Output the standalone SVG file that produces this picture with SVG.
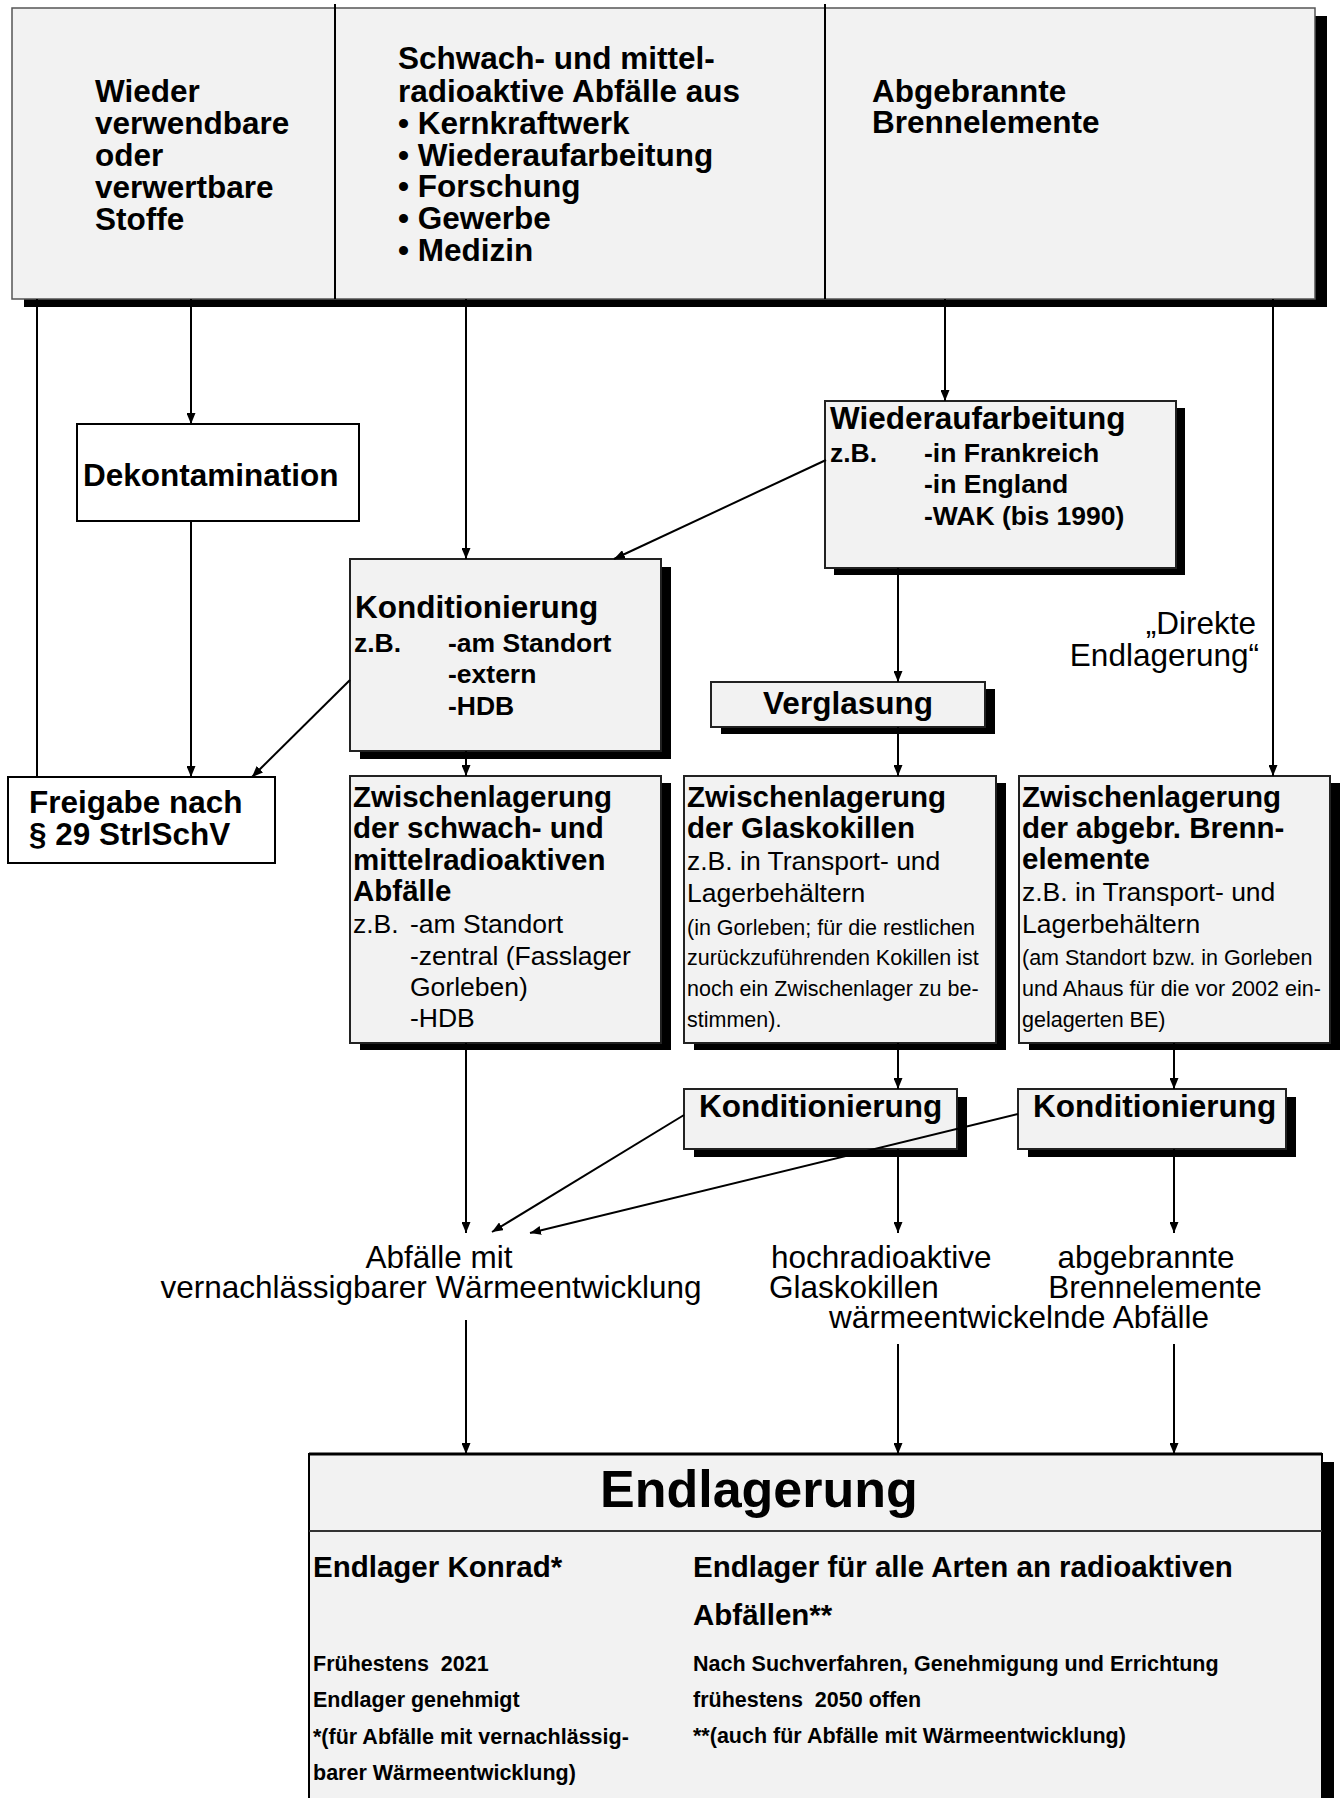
<svg xmlns="http://www.w3.org/2000/svg" width="1344" height="1798" viewBox="0 0 1344 1798">
<defs>
<marker id="ah" viewBox="0 0 11 9" refX="11" refY="4.5" markerWidth="11" markerHeight="9" markerUnits="userSpaceOnUse" orient="auto"><path d="M0,0 L11,4.5 L0,9 Z" fill="#000"/></marker>
</defs>
<style>
text{font-family:"Liberation Sans",Arial,Helvetica,sans-serif;fill:#000}
.b{font-weight:bold}
.f31{font-size:31.5px}
.f29{font-size:29.5px}
.f26{font-size:26.5px}
.f21{font-size:21.5px}
.box{fill:#f2f2f2;stroke:#222;stroke-width:2}
.sh{fill:#000}
.wbox{fill:#fff;stroke:#000;stroke-width:2}
.ln{stroke:#000;stroke-width:2;fill:none}
.ar{marker-end:url(#ah)}
</style>
<rect width="1344" height="1798" fill="#fff"/>

<g id="quellen">
<rect class="sh" x="24" y="16" width="1303" height="291"/>
<rect x="12" y="8" width="1303" height="291" fill="#f2f2f2" stroke="#555" stroke-width="1.5"/>
<line x1="335" y1="4" x2="335" y2="299" stroke="#000" stroke-width="2"/>
<line x1="825" y1="4" x2="825" y2="299" stroke="#000" stroke-width="2"/>
<g id="stoffe">
<text class="b f31" x="95" y="102">Wieder</text>
<text class="b f31" x="95" y="134">verwendbare</text>
<text class="b f31" x="95" y="166">oder</text>
<text class="b f31" x="95" y="198">verwertbare</text>
<text class="b f31" x="95" y="230">Stoffe</text>
</g>
<g id="schwach-mittel">
<text class="b f31" x="398" y="69">Schwach- und mittel-</text>
<text class="b f31" x="398" y="102">radioaktive Abfälle aus</text>
<text class="b f31" x="398" y="134">• Kernkraftwerk</text>
<text class="b f31" x="398" y="166">• Wiederaufarbeitung</text>
<text class="b f31" x="398" y="197">• Forschung</text>
<text class="b f31" x="398" y="229">• Gewerbe</text>
<text class="b f31" x="398" y="261">• Medizin</text>
</g>
<g id="brennelemente">
<text class="b f31" x="872" y="102">Abgebrannte</text>
<text class="b f31" x="872" y="133">Brennelemente</text>
</g>
</g>

<g id="dekontamination">
<rect class="wbox" x="77" y="424" width="282" height="97"/>
<text class="b f31" x="83" y="486">Dekontamination</text>
</g>

<g id="freigabe">
<rect class="wbox" x="8" y="777" width="267" height="86"/>
<text class="b f31" x="29" y="813">Freigabe nach</text>
<text class="b f31" x="29" y="845">§ 29 StrlSchV</text>
</g>

<g id="konditionierung1">
<rect class="sh" x="360" y="567" width="311" height="192"/>
<rect class="box" x="350" y="559" width="311" height="192"/>
<text class="b f31" x="355" y="618">Konditionierung</text>
<text class="b f26" x="354" y="652">z.B.</text>
<text class="b f26" x="448" y="652">-am Standort</text>
<text class="b f26" x="448" y="683">-extern</text>
<text class="b f26" x="448" y="715">-HDB</text>
</g>

<g id="wiederaufarbeitung">
<rect class="sh" x="834" y="408" width="351" height="167"/>
<rect class="box" x="825" y="401" width="351" height="167"/>
<text class="b f31" x="830" y="429">Wiederaufarbeitung</text>
<text class="b f26" x="830" y="462">z.B.</text>
<text class="b f26" x="924" y="462">-in Frankreich</text>
<text class="b f26" x="924" y="493">-in England</text>
<text class="b f26" x="924" y="525">-WAK (bis 1990)</text>
</g>

<g id="verglasung">
<rect class="sh" x="721" y="689" width="274" height="45"/>
<rect class="box" x="711" y="682" width="274" height="45"/>
<text class="b f31" x="848" y="714" text-anchor="middle">Verglasung</text>
</g>

<g id="direkte-endlagerung">
<text class="f31" x="1256" y="634" text-anchor="end">„Direkte</text>
<text class="f31" x="1259" y="666" text-anchor="end">Endlagerung“</text>
</g>

<g id="zwischenlager-smr">
<rect class="sh" x="360" y="783" width="311" height="267"/>
<rect class="box" x="350" y="776" width="311" height="267"/>
<text class="b f29" x="353" y="807">Zwischenlagerung</text>
<text class="b f29" x="353" y="838">der schwach- und</text>
<text class="b f29" x="353" y="870">mittelradioaktiven</text>
<text class="b f29" x="353" y="901">Abfälle</text>
<text class="f26" x="353" y="933">z.B.</text>
<text class="f26" x="410" y="933">-am Standort</text>
<text class="f26" x="410" y="965">-zentral (Fasslager</text>
<text class="f26" x="410" y="996">Gorleben)</text>
<text class="f26" x="410" y="1027">-HDB</text>
</g>

<g id="zwischenlager-glaskokillen">
<rect class="sh" x="694" y="783" width="312" height="267"/>
<rect class="box" x="684" y="776" width="312" height="267"/>
<text class="b f29" x="687" y="807">Zwischenlagerung</text>
<text class="b f29" x="687" y="838">der Glaskokillen</text>
<text class="f26" x="687" y="870">z.B. in Transport- und</text>
<text class="f26" x="687" y="902">Lagerbehältern</text>
<text class="f21" x="687" y="935">(in Gorleben; für die restlichen</text>
<text class="f21" x="687" y="965">zurückzuführenden Kokillen ist</text>
<text class="f21" x="687" y="996">noch ein Zwischenlager zu be-</text>
<text class="f21" x="687" y="1027">stimmen).</text>
</g>

<g id="zwischenlager-brennelemente">
<rect class="sh" x="1029" y="783" width="311" height="267"/>
<rect class="box" x="1019" y="776" width="311" height="267"/>
<text class="b f29" x="1022" y="807">Zwischenlagerung</text>
<text class="b f29" x="1022" y="838">der abgebr. Brenn-</text>
<text class="b f29" x="1022" y="869">elemente</text>
<text class="f26" x="1022" y="901">z.B. in Transport- und</text>
<text class="f26" x="1022" y="933">Lagerbehältern</text>
<text class="f21" x="1022" y="965">(am Standort bzw. in Gorleben</text>
<text class="f21" x="1022" y="996">und Ahaus für die vor 2002 ein-</text>
<text class="f21" x="1022" y="1027">gelagerten BE)</text>
</g>

<g id="konditionierung2">
<rect class="sh" x="694" y="1097" width="273" height="60"/>
<rect class="box" x="684" y="1089" width="273" height="60"/>
<text class="b f31" x="699" y="1117">Konditionierung</text>
</g>

<g id="konditionierung3">
<rect class="sh" x="1028" y="1097" width="268" height="60"/>
<rect class="box" x="1018" y="1089" width="268" height="60"/>
<text class="b f31" x="1033" y="1117">Konditionierung</text>
</g>

<g id="abfaelle-vernachlaessigbar">
<text class="f31" x="439" y="1268" text-anchor="middle">Abfälle mit</text>
<text class="f31" x="431" y="1298" text-anchor="middle">vernachlässigbarer Wärmeentwicklung</text>
</g>

<g id="waermeentwickelnd">
<text class="f31" x="771" y="1268">hochradioaktive</text>
<text class="f31" x="769" y="1298">Glaskokillen</text>
<text class="f31" x="1146" y="1268" text-anchor="middle">abgebrannte</text>
<text class="f31" x="1155" y="1298" text-anchor="middle">Brennelemente</text>
<text class="f31" x="1019" y="1328" text-anchor="middle">wärmeentwickelnde Abfälle</text>
</g>

<g id="endlagerung">
<rect class="sh" x="321" y="1462" width="1013" height="400"/>
<rect x="309" y="1454" width="1013" height="400" fill="#f2f2f2" stroke="#000" stroke-width="2"/>
<line x1="309" y1="1454" x2="1322" y2="1454" stroke="#000" stroke-width="3"/>
<line x1="309" y1="1531" x2="1322" y2="1531" stroke="#333" stroke-width="2"/>
<text class="b" x="600" y="1507" font-size="52">Endlagerung</text>
<text class="b f29" x="313" y="1577">Endlager Konrad*</text>
<text class="b f21" x="313" y="1671" font-size="21">Frühestens&#160; 2021</text>
<text class="b f21" x="313" y="1707" font-size="21">Endlager genehmigt</text>
<text class="b f21" x="313" y="1744" font-size="21">*(für Abfälle mit vernachlässig-</text>
<text class="b f21" x="313" y="1780" font-size="21">barer Wärmeentwicklung)</text>
<text class="b f29" x="693" y="1577">Endlager für alle Arten an radioaktiven</text>
<text class="b f29" x="693" y="1625">Abfällen**</text>
<text class="b f21" x="693" y="1671">Nach Suchverfahren, Genehmigung und Errichtung</text>
<text class="b f21" x="693" y="1707">frühestens&#160; 2050 offen</text>
<text class="b f21" x="693" y="1743">**(auch für Abfälle mit Wärmeentwicklung)</text>
</g>

<g id="connectors">
<line class="ln" x1="37" y1="299" x2="37" y2="777"/>
<line class="ln ar" x1="191" y1="299" x2="191" y2="424"/>
<line class="ln ar" x1="191" y1="521" x2="191" y2="777"/>
<line class="ln ar" x1="466" y1="299" x2="466" y2="559"/>
<line class="ln ar" x1="945" y1="299" x2="945" y2="401"/>
<line class="ln ar" x1="1273" y1="299" x2="1273" y2="776"/>
<line class="ln ar" x1="826" y1="460" x2="614" y2="559"/>
<line class="ln ar" x1="350" y1="680" x2="252" y2="777"/>
<line class="ln ar" x1="466" y1="751" x2="466" y2="776"/>
<line class="ln ar" x1="898" y1="568" x2="898" y2="682"/>
<line class="ln ar" x1="898" y1="727" x2="898" y2="776"/>
<line class="ln ar" x1="466" y1="1043" x2="466" y2="1233"/>
<line class="ln ar" x1="898" y1="1043" x2="898" y2="1089"/>
<line class="ln ar" x1="1174" y1="1043" x2="1174" y2="1089"/>
<line class="ln ar" x1="684" y1="1115" x2="492" y2="1232"/>
<line class="ln ar" x1="1018" y1="1114" x2="530" y2="1233"/>
<line class="ln ar" x1="898" y1="1149" x2="898" y2="1233"/>
<line class="ln ar" x1="1174" y1="1149" x2="1174" y2="1233"/>
<line class="ln ar" x1="466" y1="1320" x2="466" y2="1454"/>
<line class="ln ar" x1="898" y1="1344" x2="898" y2="1454"/>
<line class="ln ar" x1="1174" y1="1344" x2="1174" y2="1454"/>
</g>
</svg>
